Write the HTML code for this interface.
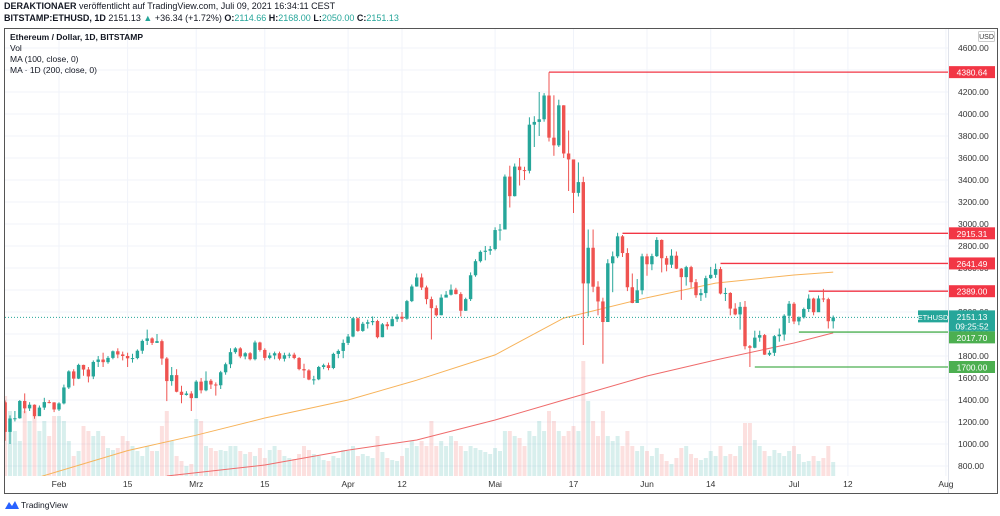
<!DOCTYPE html>
<html><head><meta charset="utf-8"><style>
html,body{margin:0;padding:0;background:#fff;width:1000px;height:516px;overflow:hidden;font-family:"Liberation Sans",sans-serif}
.hdr{position:absolute;left:4px;font-size:9px;color:#131722;white-space:nowrap}
.g{color:#26a69a}
</style></head><body>
<div class="hdr" style="top:1px"><b>DERAKTIONAER</b> veröffentlicht auf TradingView.com, Juli 09, 2021 16:34:11 CEST</div>
<div class="hdr" style="top:13px"><b>BITSTAMP:ETHUSD, 1D</b> 2151.13 <span class="g">▲</span> +36.34 (+1.72%) <b>O:</b><span class="g">2114.66</span> <b>H:</b><span class="g">2168.00</span> <b>L:</b><span class="g">2050.00</span> <b>C:</b><span class="g">2151.13</span></div>
<svg id="c" width="1000" height="516" style="position:absolute;left:0;top:0"></svg>
<script>
const closes=[1110,1232,1234,1391,1324,1357,1253,1331,1381,1378,1314,
1369,1514,1660,1594,1719,1677,1614,1746,1768,1744,1783,1843,1814,1800,1779,1781,1848,1937,1960,1919,1935,1777,1572,1626,1475,1446,1459,1417,
1567,1488,1575,1541,1534,1652,1725,1835,1869,1796,1825,1771,1923,1855,1783,1805,1825,1775,1807,1812,1782,1681,1669,1586,1588,1700,1716,1691,1819,1846,1919,
1977,2143,2028,2093,2107,2118,1971,2088,2071,2135,2157,2139,2299,2432,2514,2423,2317,2235,2171,2331,2357,2403,2363,2211,2317,2534,2662,2747,2757,2772,
2945,2950,3431,3253,3522,3490,3484,3903,3928,3952,4168,3785,3715,4079,3641,3587,3283,3381,2460,2784,2430,2296,2109,2643,2706,2888,2736,2425,2282,2397,2706,
2634,2708,2855,2689,2630,2712,2594,2517,2608,2471,2353,2372,2508,2538,2590,2368,2373,2231,2178,2247,1889,1875,1967,1990,1812,1829,1980,1995,2166,2275,
2114,2151,2227,2322,2198,2323,2317,2116,2151];
const firstOpen=1379;
const highs=[1395,1260,1300,1400,1460,1380,1360,1350,1420,1400,1380,
1380,1540,1670,1680,1730,1720,1700,1760,1800,1830,1800,1850,1870,1840,1830,1820,1860,1950,2040,1970,2000,1950,1790,1700,1680,1530,1480,1480,
1580,1600,1660,1590,1560,1665,1740,1870,1880,1880,1835,1835,1940,1930,1870,1830,1840,1840,1830,1830,1830,1790,1730,1680,1620,1710,1730,1740,1830,1860,1950,
2000,2150,2150,2110,2130,2160,2130,2100,2110,2160,2180,2200,2310,2450,2550,2550,2440,2340,2260,2360,2390,2450,2420,2380,2330,2560,2680,2760,2800,2800,
2970,3000,3450,3530,3550,3600,3520,3970,3980,4200,4190,4380,4170,4130,4080,3850,3560,3560,3430,2950,2950,2480,2330,2680,2750,2920,2900,2780,2550,2500,2730,
2730,2730,2880,2860,2710,2770,2750,2600,2620,2620,2500,2410,2530,2610,2640,2610,2420,2380,2280,2290,2300,1900,2030,2030,2000,1850,1990,2050,2180,2300,
2290,2160,2240,2360,2330,2350,2410,2330,2168];
const lows=[1030,1000,1205,1230,1280,1300,1230,1260,1310,1370,1290,
1300,1360,1500,1530,1590,1620,1560,1590,1700,1700,1730,1770,1780,1760,1700,1740,1770,1820,1900,1900,1920,1720,1390,1530,1470,1370,1440,1300,
1420,1460,1480,1500,1440,1500,1630,1690,1820,1780,1770,1760,1760,1840,1760,1770,1770,1760,1750,1780,1770,1670,1600,1580,1540,1580,1680,1670,1680,1780,1780,
1900,1970,2020,2020,2050,2080,1960,1970,2040,2070,2110,2110,2130,2290,2430,2400,2270,1950,2160,2170,2350,2350,2360,2160,2210,2300,2520,2650,2670,2720,
2760,2850,2950,3150,3250,3350,3400,3460,3700,3800,3930,3750,3620,3700,3600,3300,3100,3250,1900,2160,2380,2170,1730,2120,2380,2690,2700,2390,2280,2290,2360,
2530,2580,2700,2560,2570,2600,2590,2310,2440,2420,2330,2300,2330,2500,2510,2360,2300,2170,2170,2040,1860,1700,1870,1930,1810,1800,1800,1930,1940,2100,
2090,2080,2140,2200,2170,2210,2290,2050,2050];
const volumes=[80,65,45,35,65,55,60,45,55,40,60,
60,55,35,20,25,50,45,40,45,40,28,26,28,40,35,30,25,20,30,25,25,50,65,35,20,15,10,12,
57,55,30,28,25,26,25,30,30,25,22,24,20,28,18,26,30,26,20,18,17,22,30,26,22,20,16,15,20,18,26,
25,30,20,22,20,18,40,24,18,16,15,20,28,35,30,35,30,55,30,35,30,40,35,30,25,30,28,26,24,22,
28,25,45,45,40,38,30,45,40,55,45,65,55,45,40,45,50,45,115,75,55,40,65,40,35,40,30,45,30,25,30,
25,20,28,22,15,12,18,28,30,22,18,16,18,25,20,30,20,22,20,30,53,53,36,30,25,20,26,23,20,25,
30,22,14,15,20,15,18,30,14];
const ma100Idx=[7,25,39,53,70,84,100,114,131,145,161,169];
const ma100Val=[700,940,1080,1236,1400,1580,1810,2145,2330,2463,2536,2563];
const ma200Idx=[33,53,70,84,100,114,131,145,161,169];
const ma200Val=[709,809,945,1036,1218,1400,1618,1764,1918,2010];
const priceTicks=[4600,4400,4200,4000,3800,3600,3400,3200,3000,2800,2600,2400,2200,2000,1800,1600,1400,1200,1000,800];
const timeLabels=["Feb","15","Mrz","15","Apr","12","Mai","17","Jun","14","Jul","12","Aug"];
const timeIdx=[11,25,39,53,70,81,100,116,131,144,161,172,192];
const levelVals=[4380.64,2915.31,2641.49,2389.00,2017.70,1700.00];
const levelStart=[111,126,146,164,162,153];
const levelCols=["#f23645","#f23645","#f23645","#f23645","#4caf50","#4caf50"];
const lastPrice=2151.13;

const NS="http://www.w3.org/2000/svg";
const svg=document.getElementById('c');
const y=p=>48+(4600-p)*0.11;
const x=i=>794+(i-161)*4.9;
const VB=476;
const FF='Liberation Sans, sans-serif';
function el(t,a,parent){const e=document.createElementNS(NS,t);for(const k in a)e.setAttribute(k,a[k]);(parent||svg).appendChild(e);return e;}
const frame=el('rect',{x:4.5,y:28.5,width:993,height:465,fill:'none',stroke:'#555','stroke-width':1});


const defs=el('defs',{});const cp=el('clipPath',{id:'pc'},defs);el('rect',{x:5,y:29,width:943,height:447},cp);
priceTicks.forEach(p=>{const l=el('line',{x1:5,x2:948,y1:y(p),y2:y(p),stroke:'#f0f3fa'});

});
timeIdx.forEach(i=>{const l=el('line',{x1:x(i),x2:x(i),y1:29,y2:476,stroke:'#f0f3fa'});

});
el('line',{x1:948.5,x2:948.5,y1:29,y2:493,stroke:'#e0e3eb'});
const g=el('g',{'clip-path':'url(#pc)'});
closes.forEach((c,i)=>{const o=i?closes[i-1]:firstOpen;const up=c>=o;
const r=el('rect',{x:x(i)-2,y:VB-volumes[i],width:4,height:volumes[i],fill:up?'rgba(38,166,154,0.18)':'rgba(239,83,80,0.18)'},g);

});
function line(ix,vs,col,name){const d=ix.map((i,k)=>(k?'L':'M')+x(i).toFixed(1)+' '+y(vs[k]).toFixed(1)).join(' ');
const p=el('path',{d:d,fill:'none',stroke:col,'stroke-width':1},g);

}
line(ma100Idx,ma100Val,'#f7b35a','ma-100-line');
line(ma200Idx,ma200Val,'#ef6b6b','ma-200-line');
const lp=el('line',{x1:5,x2:948,y1:y(lastPrice),y2:y(lastPrice),stroke:'#26a69a','stroke-dasharray':'1 2','stroke-width':1},g);


levelVals.forEach((v,k)=>{const l=el('line',{x1:x(levelStart[k]),x2:948,y1:y(v),y2:y(v),stroke:levelCols[k],'stroke-width':1.3},g);

});
closes.forEach((c,i)=>{const o=i?closes[i-1]:firstOpen;const up=c>=o;const col=up?'#26a69a':'#ef5350';
const w=el('line',{x1:x(i),x2:x(i),y1:y(highs[i]),y2:y(lows[i]),stroke:col,'stroke-width':1},g);


const t=y(Math.max(o,c)),b=y(Math.min(o,c));
const r=el('rect',{x:x(i)-1.7,y:t,width:3.4,height:Math.max(1,b-t),fill:col},g);

});
priceTicks.forEach(p=>{const t=el('text',{x:958,y:y(p)+3,'font-size':8.5,fill:'#333','font-family':FF});t.textContent=p.toFixed(2);

});
el('rect',{x:978.5,y:31.5,width:16,height:10,fill:'#fff',stroke:'#ccc',rx:1});
const usd=el('text',{x:986.5,y:39,'font-size':7,fill:'#333','text-anchor':'middle','font-family':FF});usd.textContent='USD';


const ly=y(lastPrice);
el('rect',{x:918,y:ly-7,width:30,height:12,fill:'#26a69a'});
const et=el('text',{x:933,y:ly+2.5,'font-size':7.5,fill:'#fff','text-anchor':'middle','font-family':FF});et.textContent='ETHUSD';


el('rect',{x:949,y:ly-7,width:46,height:21,fill:'#26a69a'});
const pt=el('text',{x:972,y:ly+2.5,'font-size':8.5,fill:'#fff','text-anchor':'middle','font-family':FF});pt.textContent=lastPrice.toFixed(2);


const ct=el('text',{x:972,y:ly+12,'font-size':8.5,fill:'#fff','text-anchor':'middle','font-family':FF});ct.textContent='09:25:52';


levelVals.forEach((v,k)=>{let yy=y(v);if(Math.abs(yy-ly)<22&&yy>ly)yy=ly+20;el('rect',{x:949,y:yy-6,width:46,height:12,fill:levelCols[k]});
const t=el('text',{x:972,y:yy+3.5,'font-size':8.5,fill:'#fff','text-anchor':'middle','font-family':FF});t.textContent=v.toFixed(2);

});
timeLabels.forEach((s,k)=>{const t=el('text',{x:x(timeIdx[k]),y:487,'font-size':8.5,fill:'#333','text-anchor':'middle','font-family':FF});t.textContent=s;

});
const leg=[['Ethereum / Dollar, 1D, BITSTAMP',true],['Vol',false],['MA (100, close, 0)',false],['MA · 1D (200, close, 0)',false]];
leg.forEach((l,k)=>{const t=el('text',{x:10,y:40+k*11,'font-size':8.5,fill:'#131722','font-weight':l[1]?'bold':'normal','font-family':FF});t.textContent=l[0];

});
el('path',{d:'M5 509 L9 502 L12 506 L15 501 L19 509 Z',fill:'#2962ff'});
const tv=el('text',{x:21,y:508,'font-size':8.5,fill:'#131722','font-family':FF});tv.textContent='TradingView';


</script>
</body></html>
